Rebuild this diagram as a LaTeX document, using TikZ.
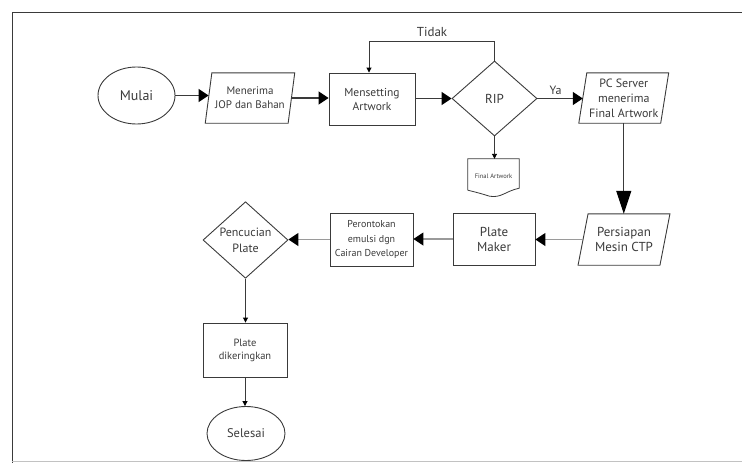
\documentclass[tikz,border=0pt]{standalone}
\usepackage{fontspec}
\setmainfont{PT Sans}
\usetikzlibrary{shapes.geometric,arrows.meta,calc}

\definecolor{ink}{HTML}{3A3A3A}
\definecolor{soft}{HTML}{9A9A9A}

\tikzset{
  outline/.style={draw=ink, line width=0.9pt},
  txt/.style={text=ink, align=center, inner sep=0pt},
  procbox/.style={outline, txt, rectangle},
  iobox/.style={txt, rectangle},
  termbox/.style={outline, txt, ellipse},
  decbox/.style={outline, txt, diamond},
  link/.style={draw=ink, line width=1.1pt},
  bigtip/.style={-{Triangle[length=10pt,width=13pt,color=black]}},
  hugetip/.style={-{Triangle[length=23pt,width=15pt,color=black]}},
  smalltip/.style={-{Triangle[length=5pt,width=5pt,color=black]}},
}

% slanted outline around an invisible rectangular node
\newcommand{\slantframe}[2]{%
  \draw[outline] ([xshift=#2]#1.north west) -- ([xshift=#2]#1.north east)
    -- ([xshift=-#2]#1.south east) -- ([xshift=-#2]#1.south west) -- cycle;}

\begin{document}
\begin{tikzpicture}[x=1pt,y=-1pt]
\useasboundingbox (0,0) rectangle (742,463);

% page frame
\draw[ink, line width=1pt] (12,463) -- (12,12) -- (742,12);
\draw[soft!60, line width=0.8pt] (12,461.5) -- (742,461.5);

% first row
\node[termbox, minimum width=77pt, minimum height=57pt, font=\fontsize{14}{16}\selectfont]
  (mulai) at (136.5,95.5) {Mulai};
\node[iobox, minimum width=82.5pt, minimum height=50pt, font=\fontsize{11}{14}\selectfont]
  (jop) at (250,98) {Menerima\\JOP dan Bahan};
\slantframe{jop}{3.3pt}
\node[procbox, minimum width=86pt, minimum height=52pt, font=\fontsize{11.5}{14}\selectfont]
  (mens) at (372,99) {Mensetting\\Artwork};
\node[decbox, minimum width=85pt, minimum height=75pt, font=\fontsize{13}{15}\selectfont]
  (rip) at (494.5,98.5) {RIP};
\node[iobox, minimum width=81.5pt, minimum height=50pt, font=\fontsize{12}{15}\selectfont]
  (pc) at (623.75,98) {PC Server\\menerima\\Final Artwork};
\slantframe{pc}{4pt}

% document output of RIP
\node[txt, minimum width=51pt, minimum height=34pt, font=\fontsize{6.5}{7}\selectfont]
  (doc) at (493.5,176) {Final Artwork};
\draw[outline, line width=0.8pt] ([yshift=3pt]doc.south west) -- (doc.north west) -- (doc.north east)
  -- ([yshift=5pt]doc.south east)
  .. controls ($(doc.south east)+(-14,-2)$) and ($(doc.south)+(8,5)$) .. ($(doc.south)+(-4,3)$)
  .. controls ($(doc.south west)+(12,0)$) .. ([yshift=3pt]doc.south west);

% second row
\node[iobox, minimum width=81.5pt, minimum height=51pt, font=\fontsize{13}{15}\selectfont]
  (pers) at (624,239.5) {Persiapan\\Mesin CTP};
\slantframe{pers}{5pt}
\node[procbox, minimum width=82pt, minimum height=52pt, font=\fontsize{13}{15}\selectfont]
  (pm) at (494,239) {Plate\\Maker};
\node[procbox, minimum width=83pt, minimum height=53pt, font=\fontsize{10}{14.5}\selectfont]
  (per) at (371.5,239.5) {Perontokan\\emulsi dgn\\Cairan Developer};
\node[decbox, minimum width=85pt, minimum height=76pt, font=\fontsize{12}{16}\selectfont]
  (penc) at (245.5,240) {Pencucian\\Plate};

% last column
\node[procbox, minimum width=84pt, minimum height=54pt, font=\fontsize{10.5}{13}\selectfont]
  (dry) at (245,350) {Plate\\dikeringkan};
\node[termbox, minimum width=78pt, minimum height=54pt, font=\fontsize{12.5}{15}\selectfont]
  (sel) at (246,433.5) {Selesai};

% connectors
\draw[link, bigtip] (mulai.east) -- (mulai.east -| jop.west);
\draw[link, bigtip] (jop.east) -- (jop.east -| mens.west);
\draw[link, bigtip] (mens.east |- rip.west) -- (rip.west);
\draw[link, bigtip] (rip.east) -- (rip.east -| pc.west)
  node[pos=0.4, above=3pt, txt, font=\fontsize{12}{14}\selectfont] (ya) {Ya};
\draw[link, hugetip] (pc.south) -- (pc.south |- pers.north);
\draw[link, line width=0.9pt, smalltip] (rip.south) -- (rip.south |- doc.north);

\coordinate (loop) at (369,41);
\draw[link, line width=0.9pt, smalltip] (rip.north) |- (loop) -- (loop |- mens.north);
\node[txt, font=\fontsize{13}{15}\selectfont, above=4pt] (tidak) at (432,41) {Tidak};

\draw[link, draw=soft, bigtip] (pers.west) -- (pers.west -| pm.east);
\draw[link, draw=soft, bigtip] (pm.west) -- (pm.west -| per.east);
\draw[link, draw=soft, bigtip] (per.west) -- (per.west -| penc.east);

\draw[link, line width=0.9pt, smalltip] (penc.south) -- (penc.south |- dry.north);
\draw[link, line width=0.9pt, smalltip] (dry.south) -- (dry.south |- sel.north);
\end{tikzpicture}
\end{document}
